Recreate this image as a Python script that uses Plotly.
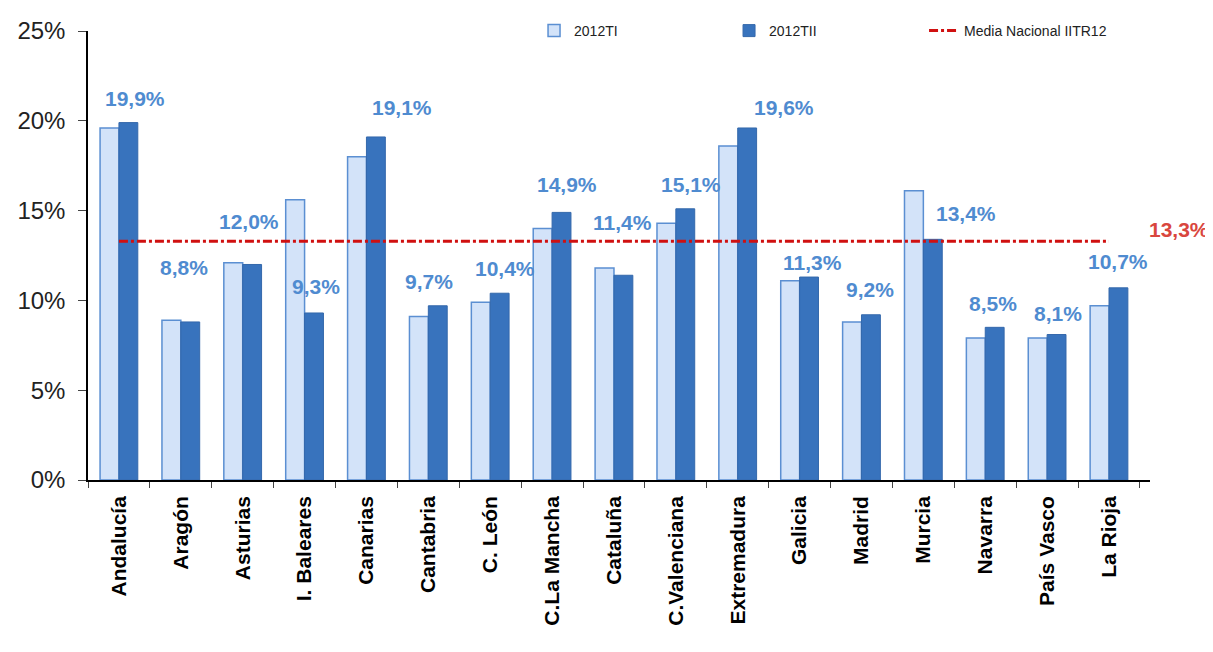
import plotly.graph_objects as go

regions = ["Andalucía", "Aragón", "Asturias", "I. Baleares", "Canarias", "Cantabria",
           "C. León", "C.La Mancha", "Cataluña", "C.Valenciana", "Extremadura",
           "Galicia", "Madrid", "Murcia", "Navarra", "País Vasco", "La Rioja"]
t1_2012 = [19.6, 8.9, 12.1, 15.6, 18.0, 9.1, 9.9, 14.0, 11.8, 14.3, 18.6,
           11.1, 8.8, 16.1, 7.9, 7.9, 9.7]
t2_2012 = [19.9, 8.8, 12.0, 9.3, 19.1, 9.7, 10.4, 14.9, 11.4, 15.1, 19.6,
           11.3, 9.2, 13.4, 8.5, 8.1, 10.7]
media_nacional = 13.3

# label placement (pixels) for the 2012TII value labels
label_dx = [16, 3, 6, 11, 36, 1, 15, 15, 9, 15, 46, 13, 9, 43, 8, 11, 9]
label_dy = [24, 54, 43, 26, 29, 24, 25, 28, 53, 24, 20, 15, 25, 26, 24, 21, 26]

def fmt(v):
    return f"{v:.1f}%".replace(".", ",")

fig = go.Figure()
fig.add_trace(go.Bar(
    x=regions, y=t1_2012, name="2012TI",
    marker=dict(color="#d3e3f9", line=dict(color="#5b8fd2", width=1.5)),
))
fig.add_trace(go.Bar(
    x=regions, y=t2_2012, name="2012TII",
    marker=dict(color="#3873bd", line=dict(color="#3468ab", width=1)),
))
fig.add_trace(go.Scatter(
    x=regions, y=[media_nacional] * len(regions), name="Media Nacional IITR12",
    mode="lines", line=dict(color="#d01010", width=3, dash="dashdot"),
))

annotations = []
for r, v, dx, dy in zip(regions, t2_2012, label_dx, label_dy):
    annotations.append(dict(
        x=r, y=v, text=fmt(v), showarrow=False, xshift=dx, yshift=dy,
        yanchor="middle",
        font=dict(size=21, color="#4f8bd0", family="Liberation Sans", weight="bold"),
    ))
annotations.append(dict(
    x=1.057, xref="paper", y=media_nacional, text=fmt(media_nacional),
    showarrow=False, yshift=12, yanchor="middle",
    font=dict(size=21, color="#d9463e", family="Liberation Sans", weight="bold"),
))

fig.update_layout(
    width=1213,
    height=652,
    margin=dict(l=80, r=71, t=23, b=180, autoexpand=False),
    plot_bgcolor="white",
    paper_bgcolor="white",
    barmode="group",
    bargap=0.39,
    bargroupgap=0,
    font=dict(family="Liberation Sans", color="#222"),
    annotations=annotations,
    legend=dict(
        orientation="h", x=0.42, y=1.0, xanchor="left", yanchor="middle",
        entrywidth=150, font=dict(size=14, color="#222"),
        bgcolor="rgba(0,0,0,0)",
    ),
    xaxis=dict(
        tickangle=-90,
        tickfont=dict(size=21, color="black", family="Liberation Sans", weight="bold"),
        showline=True, linecolor="black", linewidth=1.5,
        ticks="outside", tickson="boundaries", ticklen=6, tickcolor="#444",
        ticklabelstandoff=6,
        showgrid=False,
    ),
    yaxis=dict(
        range=[0, 25], dtick=5, ticksuffix="%",
        tickfont=dict(size=24, color="#222"),
        showline=True, linecolor="black", linewidth=1.5,
        ticks="outside", ticklen=8, tickcolor="#444",
        ticklabelstandoff=8,
        showgrid=False, zeroline=False,
    ),
)

fig.write_html("out.html")
